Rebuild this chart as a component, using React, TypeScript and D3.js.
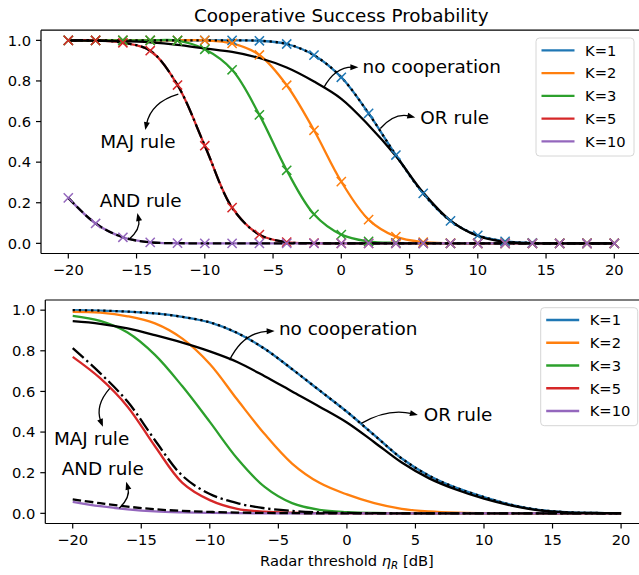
import React from "react";
import * as d3 from "d3";

// radar threshold grid [dB]
const dbGrid = [-20, -18, -16, -14, -12, -10, -8, -6, -4, -2, 0, 2, 4, 6, 8, 10, 12, 14, 16, 18, 20];
const xTicks = [-20, -15, -10, -5, 0, 5, 10, 15, 20];
const yTicks = [0, 0.2, 0.4, 0.6, 0.8, 1.0];
const kLabels = ["K=1", "K=2", "K=3", "K=5", "K=10"];
const kColors = ["#1f77b4", "#ff7f0e", "#2ca02c", "#d62728", "#9467bd"];

// upper panel
const topK1 = [1, 1, 1, 1, 1, 1, 1, 0.998, 0.982, 0.927, 0.818, 0.64, 0.435, 0.246, 0.111, 0.039, 0.01, 0.002, 0, 0, 0];
const topK2 = [1, 1, 1, 1, 1, 1, 0.985, 0.928, 0.779, 0.557, 0.304, 0.117, 0.033, 0.006, 0.001, 0, 0, 0, 0, 0, 0];
const topK3 = [1, 1, 1, 1, 0.999, 0.956, 0.855, 0.633, 0.36, 0.143, 0.043, 0.01, 0.002, 0, 0, 0, 0, 0, 0, 0, 0];
const topK5 = [1, 1, 0.988, 0.949, 0.78, 0.481, 0.176, 0.043, 0.006, 0.001, 0, 0, 0, 0, 0, 0, 0, 0, 0, 0, 0];
const topK10 = [0.224, 0.098, 0.03, 0.005, 0.001, 0, 0, 0, 0, 0, 0, 0, 0, 0, 0, 0, 0, 0, 0, 0, 0];
const topNoCoop = [0.999, 0.998, 0.996, 0.99, 0.978, 0.96, 0.943, 0.913, 0.866, 0.797, 0.712, 0.582, 0.43, 0.25, 0.112, 0.036, 0.007, 0.001, 0, 0, 0];

// lower panel
const botK1 = [1, 0.998, 0.993, 0.984, 0.967, 0.94, 0.888, 0.81, 0.71, 0.605, 0.5, 0.385, 0.27, 0.185, 0.125, 0.08, 0.042, 0.017, 0.006, 0.002, 0.001];
const botK2 = [0.992, 0.988, 0.97, 0.935, 0.86, 0.735, 0.56, 0.39, 0.245, 0.15, 0.093, 0.05, 0.022, 0.009, 0.003, 0.001, 0, 0, 0, 0, 0];
const botK3 = [0.972, 0.947, 0.89, 0.78, 0.625, 0.45, 0.27, 0.13, 0.05, 0.017, 0.006, 0.002, 0.001, 0, 0, 0, 0, 0, 0, 0, 0];
const botK5 = [0.77, 0.665, 0.525, 0.33, 0.15, 0.065, 0.022, 0.008, 0.003, 0.001, 0, 0, 0, 0, 0, 0, 0, 0, 0, 0, 0];
const botK10 = [0.057, 0.035, 0.02, 0.01, 0.005, 0.002, 0.001, 0, 0, 0, 0, 0, 0, 0, 0, 0, 0, 0, 0, 0, 0];
const botNoCoop = [0.946, 0.933, 0.91, 0.877, 0.84, 0.797, 0.745, 0.675, 0.6, 0.525, 0.447, 0.35, 0.25, 0.172, 0.116, 0.072, 0.038, 0.015, 0.005, 0.002, 0.0005];
const botMaj = [0.813, 0.69, 0.55, 0.36, 0.185, 0.095, 0.05, 0.025, 0.012, 0.005, 0.002, 0.001, 0, 0, 0, 0, 0, 0, 0, 0, 0];
const botAnd = [0.069, 0.05, 0.033, 0.02, 0.012, 0.007, 0.004, 0.002, 0.001, 0, 0, 0, 0, 0, 0, 0, 0, 0, 0, 0, 0];

const FONT = "DejaVu Sans";
const LW = 2.3;
const DOTTED = "2.3 3.8";
const DASHED = "8.5 3.7";
const DASHDOT = "14.7 3.7 2.3 3.7";

type Note = { text: string; from: [number, number]; to: [number, number]; rad: number; at: [number, number] };
type RefLine = { values: number[]; dash?: string };

function arrow(s: number[], e: number[], rad: number) {
  const dx = e[0] - s[0], dy = e[1] - s[1];
  const cx = (s[0] + e[0]) / 2 + rad * dy;
  const cy = (s[1] + e[1]) / 2 - rad * dx;
  const ang = Math.atan2(e[1] - cy, e[0] - cx);
  const hl = 8, hw = 3;
  const bx = e[0] - hl * Math.cos(ang), by = e[1] - hl * Math.sin(ang);
  const px = -Math.sin(ang) * hw, py = Math.cos(ang) * hw;
  return {
    d: `M${s[0]},${s[1]} Q${cx},${cy} ${bx + 2 * Math.cos(ang)},${by + 2 * Math.sin(ang)}`,
    head: `${e[0]},${e[1]} ${bx + px},${by + py} ${bx - px},${by - py}`,
  };
}

function Panel({ id, frame, series, refs, markers, notes, legend, title, xLabel }: any) {
  const x = d3.scaleLinear().domain([-22, 22]).range([frame.left, frame.right]);
  const y = d3.scaleLinear().domain([-0.05, 1.05]).range([frame.bottom, frame.top]);
  const line = d3.line<number>()
    .x((_, i) => x(dbGrid[i]))
    .y(v => y(v))
    .curve(d3.curveCatmullRom.alpha(0.5));

  return (
    <g>
      <defs>
        <clipPath id={id}>
          <rect x={frame.left} y={frame.top} width={frame.right - frame.left} height={frame.bottom - frame.top} />
        </clipPath>
      </defs>
      <g clipPath={`url(#${id})`}>
        {series.map((vals: number[], i: number) => (
          <path key={"s" + i} d={line(vals) || ""} fill="none" stroke={kColors[i]} strokeWidth={LW} />
        ))}
        {refs.map((r: RefLine, i: number) => (
          <path key={"r" + i} d={line(r.values) || ""} fill="none" stroke="#000" strokeWidth={LW}
            strokeDasharray={r.dash} />
        ))}
        {markers && series.map((vals: number[], i: number) => (
          <g key={"m" + i} stroke={kColors[i]} strokeWidth={1.5}>
            {vals.map((v, j) => {
              const cx = x(dbGrid[j]), cy = y(v), h = 4.6;
              return <path key={j} d={`M${cx - h},${cy - h}L${cx + h},${cy + h}M${cx - h},${cy + h}L${cx + h},${cy - h}`} />;
            })}
          </g>
        ))}
      </g>

      {/* spines */}
      <g stroke="#000" strokeWidth={1.2} fill="none">
        <line x1={frame.left} x2={frame.left} y1={frame.top} y2={frame.bottom} />
        <line x1={frame.right} x2={frame.right} y1={frame.top} y2={frame.bottom} />
        <line x1={frame.left} x2={frame.right} y1={frame.top} y2={frame.top} />
        <line x1={frame.left} x2={frame.right} y1={frame.bottom} y2={frame.bottom} />
      </g>

      {/* ticks */}
      <g fontFamily={FONT} fontSize={14.7} fill="#000">
        {xTicks.map(t => (
          <g key={"x" + t}>
            <line x1={x(t)} x2={x(t)} y1={frame.bottom} y2={frame.bottom + 5} stroke="#000" strokeWidth={1.2} />
            <text x={x(t)} y={frame.bottom + 21.5} textAnchor="middle">{t < 0 ? "\u2212" + Math.abs(t) : String(t)}</text>
          </g>
        ))}
        {yTicks.map(t => (
          <g key={"y" + t}>
            <line x1={frame.left - 5} x2={frame.left} y1={y(t)} y2={y(t)} stroke="#000" strokeWidth={1.2} />
            <text x={frame.left - 10} y={y(t) + 5.3} textAnchor="end">{t.toFixed(1)}</text>
          </g>
        ))}
      </g>

      {/* annotations */}
      {notes.map((n: Note, i: number) => {
        const a = arrow([x(n.from[0]), y(n.from[1])], [x(n.to[0]), y(n.to[1])], n.rad);
        return (
          <g key={"n" + i}>
            <path d={a.d} fill="none" stroke="#000" strokeWidth={1.3} />
            <polygon points={a.head} fill="#000" />
            <text x={x(n.at[0])} y={y(n.at[1])} fontFamily={FONT} fontSize={18.4}>{n.text}</text>
          </g>
        );
      })}

      {/* legend */}
      <g>
        <rect x={legend.x} y={legend.y} width={legend.w} height={118} rx={3.5}
          fill="#fff" fillOpacity={0.8} stroke="#d6d6d6" strokeWidth={1} />
        {kLabels.map((lab, i) => {
          const ry = legend.y + 12.3 + i * 22.75;
          return (
            <g key={lab}>
              <line x1={legend.x + 5.5} x2={legend.x + 38.5} y1={ry} y2={ry} stroke={kColors[i]} strokeWidth={LW} />
              <text x={legend.x + 49} y={ry + 5.3} fontFamily={FONT} fontSize={14.7}>{lab}</text>
            </g>
          );
        })}
      </g>

      {title && (
        <text x={(frame.left + frame.right) / 2} y={frame.top - 8} textAnchor="middle" fontFamily={FONT} fontSize={18.4}>{title}</text>
      )}
      {xLabel && (
        <text x={(frame.left + frame.right) / 2} y={frame.bottom + 42} textAnchor="middle" fontFamily={FONT} fontSize={14.7}>
          Radar threshold <tspan fontStyle="italic">η</tspan>
          <tspan fontStyle="italic" fontSize={10.3} dy={3}>R</tspan>
          <tspan dy={-3}> [dB]</tspan>
        </text>
      )}
    </g>
  );
}

const topNotes: Note[] = [
  { text: "no cooperation", from: [-1.3, 0.765], to: [1.25, 0.868], rad: 0.3, at: [1.56, 0.84] },
  { text: "OR rule", from: [2.86, 0.566], to: [5.42, 0.62], rad: 0.3, at: [5.79, 0.589] },
  { text: "MAJ rule", from: [-11.94, 0.735], to: [-14.36, 0.558], rad: -0.3, at: [-17.66, 0.471] },
  { text: "AND rule", from: [-15.6, 0.016], to: [-14.94, 0.149], rad: -0.3, at: [-17.7, 0.18] },
];

const botNotes: Note[] = [
  { text: "no cooperation", from: [-8.56, 0.754], to: [-5.27, 0.898], rad: 0.3, at: [-4.96, 0.877] },
  { text: "OR rule", from: [1.05, 0.443], to: [5.18, 0.484], rad: 0.2, at: [5.6, 0.454] },
  { text: "MAJ rule", from: [-17.3, 0.615], to: [-17.8, 0.426], rad: -0.3, at: [-21.37, 0.336] },
  { text: "AND rule", from: [-16.6, 0.025], to: [-16.1, 0.155], rad: -0.3, at: [-20.8, 0.189] },
];

export default function App() {
  return (
    <svg width={639} height={575} style={{ position: "absolute", left: 0, top: 0, background: "#fff" }}>
      <rect width={639} height={575} fill="#fff" />
      <Panel
        id="clipTop"
        frame={{ left: 41, right: 641.6, top: 30.2, bottom: 253.5 }}
        series={[topK1, topK2, topK3, topK5, topK10]}
        refs={[
          { values: topNoCoop },
          { values: topK1, dash: DOTTED },
          { values: topK5, dash: DASHDOT },
          { values: topK10, dash: DASHED },
        ]}
        markers={true}
        notes={topNotes}
        legend={{ x: 536, y: 38, w: 98 }}
        title="Cooperative Success Probability"
      />
      <Panel
        id="clipBot"
        frame={{ left: 45.3, right: 648.5, top: 300, bottom: 523.5 }}
        series={[botK1, botK2, botK3, botK5, botK10]}
        refs={[
          { values: botNoCoop },
          { values: botK1, dash: DOTTED },
          { values: botMaj, dash: DASHDOT },
          { values: botAnd, dash: DASHED },
        ]}
        markers={false}
        notes={botNotes}
        legend={{ x: 540.7, y: 307.7, w: 97 }}
        xLabel={true}
      />
    </svg>
  );
}
